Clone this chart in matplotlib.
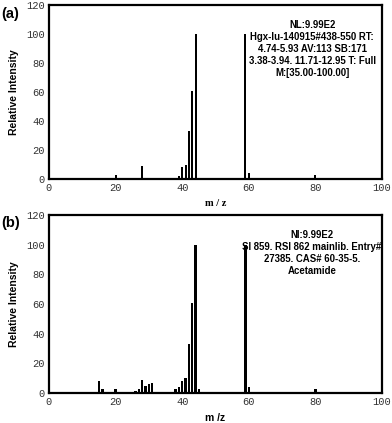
import matplotlib
matplotlib.use("Agg")
import matplotlib.pyplot as plt

# spectrum (a): measured
mz_a = [20, 28, 39, 40, 41, 42, 43, 44, 59, 60, 72, 80, 100]
int_a = [3, 9, 2, 8, 10, 33, 61, 100, 100, 4, 1, 3, 2]
note_a = ("NL:9.99E2\nHgx-lu-140915#438-550 RT:\n4.74-5.93 AV:113 SB:171\n"
          "3.38-3.94. 11.71-12.95 T: Full\nM:[35.00-100.00]")

# spectrum (b): library match
mz_b = [15, 16, 20, 25, 26, 27, 28, 29, 30, 31, 38, 39, 40, 41, 42, 43, 44, 45,
        59, 60, 80, 100]
int_b = [8, 3, 3, 1, 1.5, 3, 9, 5, 6, 7, 3, 4, 8, 10, 33, 61, 100, 3,
         100, 4, 3, 2]
note_b = "NI:9.99E2\nSI 859. RSI 862 mainlib. Entry#\n27385. CAS# 60-35-5.\nAcetamide"

xticks = [0, 20, 40, 60, 80, 100]
yticks = [0, 20, 40, 60, 80, 100, 120]

fig = plt.figure(figsize=(3.92, 4.23), dpi=100)
ax1 = fig.add_axes([0.125, 0.5768, 0.8495, 0.4113])
ax2 = fig.add_axes([0.125, 0.0709, 0.8495, 0.4208])


def draw(ax, mz, inten, width, note, xlab, xlab_font, tag, tag_y):
    ax.bar(mz, inten, width=width, color="black", linewidth=0)
    ax.set_xlim(0, 100)
    ax.set_ylim(0, 120)
    ax.set_xticks(xticks)
    ax.set_yticks(yticks)
    ax.tick_params(length=0, pad=3, labelsize=7.5)
    for lab in ax.get_xticklabels() + ax.get_yticklabels():
        lab.set_family("Liberation Mono")
        lab.set_color("#333333")
    for s in ax.spines.values():
        s.set_linewidth(1.6)
    ax.set_ylabel("Relative Intensity", fontsize=7.5, fontweight="bold",
                  family="Liberation Sans", labelpad=5)
    ax.set_xlabel(xlab, fontsize=7.5, fontweight="bold", family=xlab_font,
                  labelpad=4)
    ax.text(79, 110, note, ha="center", va="top", fontsize=6.9,
            fontweight="bold", family="Liberation Sans", linespacing=1.25)
    fig.text(0.003, tag_y, tag, fontsize=10.5, fontweight="bold",
             family="Liberation Sans", va="center")


draw(ax1, mz_a, int_a, 0.6, note_a, "m / z", "Liberation Serif", "(a)", 1 - 14 / 423)
draw(ax2, mz_b, int_b, 0.75, note_b, "m /z", "Liberation Sans", "(b)", 1 - 223 / 423)

fig.savefig("out.png", dpi=100)
